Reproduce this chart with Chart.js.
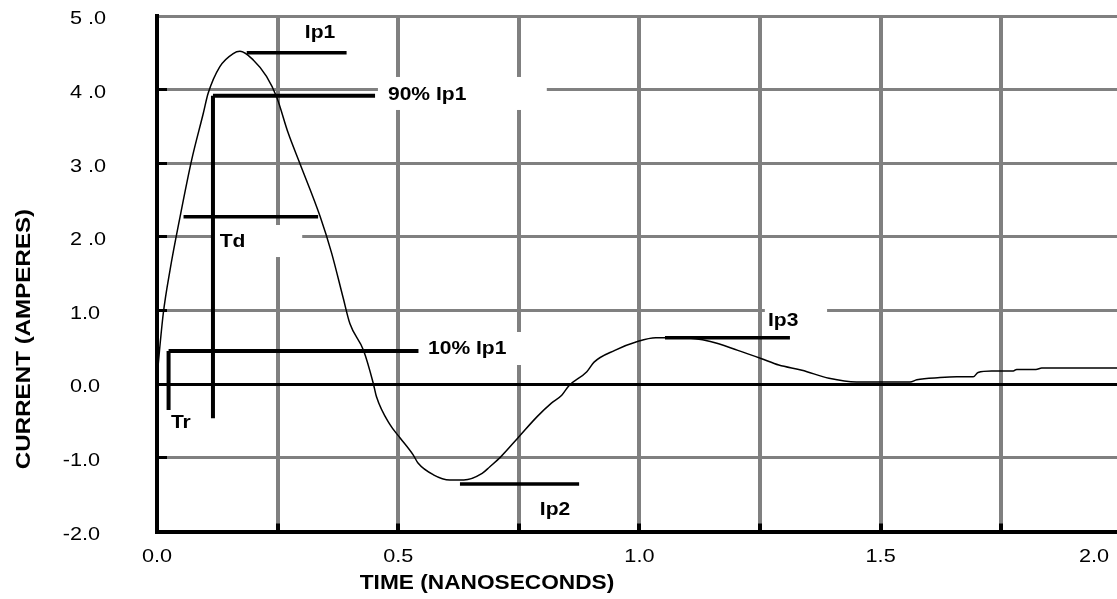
<!DOCTYPE html>
<html><head><meta charset="utf-8">
<script src="https://cdn.jsdelivr.net/npm/chart.js@4.4.1/dist/chart.umd.min.js"></script>
<style>html,body{margin:0;padding:0;background:#fff;overflow:hidden}canvas{display:block}</style>
</head><body>
<canvas id="c" width="1117" height="599"></canvas>
<script>
// ---- data ----
const timeNs = [0, 0.013, 0.027, 0.048, 0.072, 0.096, 0.106, 0.130, 0.158, 0.172, 0.200, 0.227, 0.248, 0.272, 0.296, 0.338, 0.362, 0.386, 0.400, 0.428, 0.448, 0.455, 0.483, 0.504, 0.531, 0.541, 0.573, 0.607, 0.636, 0.674, 0.690, 0.712, 0.748, 0.788, 0.817, 0.839, 0.854, 0.891, 0.906, 0.949, 0.996, 1.034, 1.090, 1.147, 1.204, 1.252, 1.289, 1.337, 1.393, 1.450, 1.499, 1.561, 1.575, 1.623, 1.658, 1.692, 1.702, 1.730, 1.775, 1.782, 1.822, 1.834, 1.990];
const currentA = [0.10, 0.96, 1.55, 2.28, 3.05, 3.68, 3.95, 4.31, 4.49, 4.52, 4.40, 4.18, 3.90, 3.41, 3.00, 2.28, 1.78, 1.17, 0.82, 0.46, 0.02, -0.17, -0.55, -0.73, -0.96, -1.07, -1.23, -1.30, -1.30, -1.21, -1.12, -0.99, -0.73, -0.44, -0.26, -0.15, -0.02, 0.17, 0.30, 0.46, 0.58, 0.63, 0.63, 0.58, 0.46, 0.35, 0.26, 0.19, 0.08, 0.03, 0.03, 0.03, 0.06, 0.09, 0.10, 0.10, 0.16, 0.18, 0.18, 0.20, 0.20, 0.22, 0.22];

const xGridValues = [0, 0.25, 0.5, 0.75, 1.0, 1.25, 1.5, 1.75];
const xTickValues = [0, 0.5, 1.0, 1.5, 2.0];
const xTickLabels = ['0.0', '0.5', '1.0', '1.5', '2.0'];
const yTickValues = [-2, -1, 0, 1, 2, 3, 4, 5];
const yTickLabels = ['-2.0', '-1.0', '0.0', '1.0', '2 .0', '3 .0', '4 .0', '5 .0'];
const xTitle = 'TIME (NANOSECONDS)';
const yTitle = 'CURRENT (AMPERES)';

// marker segments (data units): Ip1, 90% Ip1, 90% drop, Td, 10% Ip1, 10% drop, Ip2, Ip3
const markerX0 = [0.186, 0.116, 0.116, 0.055, 0.024, 0.024, 0.628, 1.053];
const markerX1 = [0.393, 0.452, 0.116, 0.334, 0.542, 0.024, 0.875, 1.312];
const markerY0 = [4.502, 3.918, 3.918, 2.275, 0.451, 0.451, -1.355, 0.632];
const markerY1 = [4.502, 3.918, -0.463, 2.275, 0.451, -0.350, -1.355, 0.632];

// marker labels (data-unit anchors)
const labelTexts = ['Ip1', '90% Ip1', 'Td', '10% Ip1', 'Tr', 'Ip2', 'Ip3'];
const labelX = [0.338, 0.560, 0.1565, 0.643, 0.0494, 0.825, 1.298];
const labelY = [4.773, 3.927, 1.935, 0.478, -0.531, -1.708, 0.858];

// white label boxes that interrupt the grid (data units)
const boxX0 = [0.458, 0.118, 0.541, 1.260];
const boxX1 = [0.808, 0.301, 0.804, 1.389];
const boxY0 = [4.172, 2.162, 0.709, 1.103];
const boxY1 = [3.724, 1.727, 0.261, 0.668];

// ---- drawing ----
const FONT = '"Liberation Sans", Arial, sans-serif';
function txt(ctx, text, x, y, font, sx, align, rot) {
  ctx.save();
  ctx.translate(x, y);
  if (rot) ctx.rotate(rot);
  ctx.scale(sx, 1);
  ctx.font = font;
  ctx.textAlign = align;
  ctx.textBaseline = 'middle';
  ctx.fillStyle = '#000';
  ctx.fillText(text, 0, 0);
  ctx.restore();
}

const curve = {
  label: 'Current',
  data: timeNs.map((t, i) => ({ x: t, y: currentA[i] })),
  borderColor: '#000', borderWidth: 1.5, pointRadius: 0,
  cubicInterpolationMode: 'monotone', fill: false
};
const markerSets = markerX0.map((x0, i) => ({
  label: 'm' + i,
  data: [{ x: x0, y: markerY0[i] }, { x: markerX1[i], y: markerY1[i] }],
  borderColor: '#000', borderWidth: (i === 1 || i === 2 || i === 4 || i === 5) ? 4 : 3.5,
  pointRadius: 0, tension: 0, fill: false
}));

const bgPlugin = {
  id: 'bg',
  beforeDraw(chart) {
    const c = chart.ctx; c.save(); c.fillStyle = '#fff'; c.fillRect(0, 0, chart.width, chart.height); c.restore();
  },
  beforeDatasetsDraw(chart) {
    const c = chart.ctx, xs = chart.scales.x, ys = chart.scales.y;
    c.save(); c.fillStyle = '#fff';
    boxX0.forEach((b, i) => {
      const l = xs.getPixelForValue(b), r = xs.getPixelForValue(boxX1[i]);
      const t = ys.getPixelForValue(boxY0[i]), btm = ys.getPixelForValue(boxY1[i]);
      c.fillRect(l, t, r - l, btm - t);
    });
    c.restore();
  },
  afterDraw(chart) {
    const c = chart.ctx, xs = chart.scales.x, ys = chart.scales.y;
    // x tick labels
    xTickValues.forEach((v, i) => {
      const px = Math.min(xs.getPixelForValue(v), chart.width - 23);
      txt(c, xTickLabels[i], px, 557, '19px ' + FONT, 1.14, 'center');
    });
    // y tick labels
    c.font = '19px ' + FONT;
    const minusW = c.measureText('-').width * 1.14;
    yTickValues.forEach((v, i) => {
      const lab = yTickLabels[i];
      const px = lab.startsWith('-') ? 70 - minusW : 70;
      txt(c, lab, px, ys.getPixelForValue(v) + 3, '19px ' + FONT, 1.14, 'left');
    });
    // axis titles
    txt(c, xTitle, 487, 583, 'bold 21px ' + FONT, 1.08, 'center');
    txt(c, yTitle, 24, 339, 'bold 21px ' + FONT, 1.15, 'center', -Math.PI / 2);
    // marker labels
    labelTexts.forEach((s, i) => {
      txt(c, s, xs.getPixelForValue(labelX[i]), ys.getPixelForValue(labelY[i]), 'bold 18px ' + FONT, 1.17, 'center');
    });
  }
};

new Chart(document.getElementById('c'), {
  type: 'line',
  data: { datasets: [curve].concat(markerSets) },
  options: {
    responsive: false, animation: false, devicePixelRatio: 1,
    layout: { padding: { top: 16, left: 0, right: 0, bottom: 0 } },
    plugins: { legend: { display: false }, tooltip: { enabled: false } },
    scales: {
      x: {
        type: 'linear', min: 0, max: 1.99,
        afterBuildTicks: s => { s.ticks = xGridValues.map(v => ({ value: v })); },
        afterFit: s => { s.height = 67.5; },
        ticks: { display: false },
        grid: { color: '#808080', lineWidth: 4, z: -2, drawTicks: true, tickLength: -8, tickColor: '#000', tickWidth: 4 },
        border: { color: '#000', width: 4 }
      },
      y: {
        type: 'linear', min: -2, max: 5,
        afterBuildTicks: s => { s.ticks = yTickValues.map(v => ({ value: v })); },
        afterFit: s => { s.width = 157; },
        ticks: { display: false },
        grid: {
          z: -1,
          color: c => (c.tick && c.tick.value === 0) ? '#000' : '#808080',
          lineWidth: 3, drawTicks: true, tickLength: -10, tickWidth: 3,
          tickColor: c => (c.tick && c.tick.value === 5) ? 'rgba(0,0,0,0)' : '#000'
        },
        border: { color: '#000', width: 4 }
      }
    }
  },
  plugins: [bgPlugin]
});
</script>
</body></html>
